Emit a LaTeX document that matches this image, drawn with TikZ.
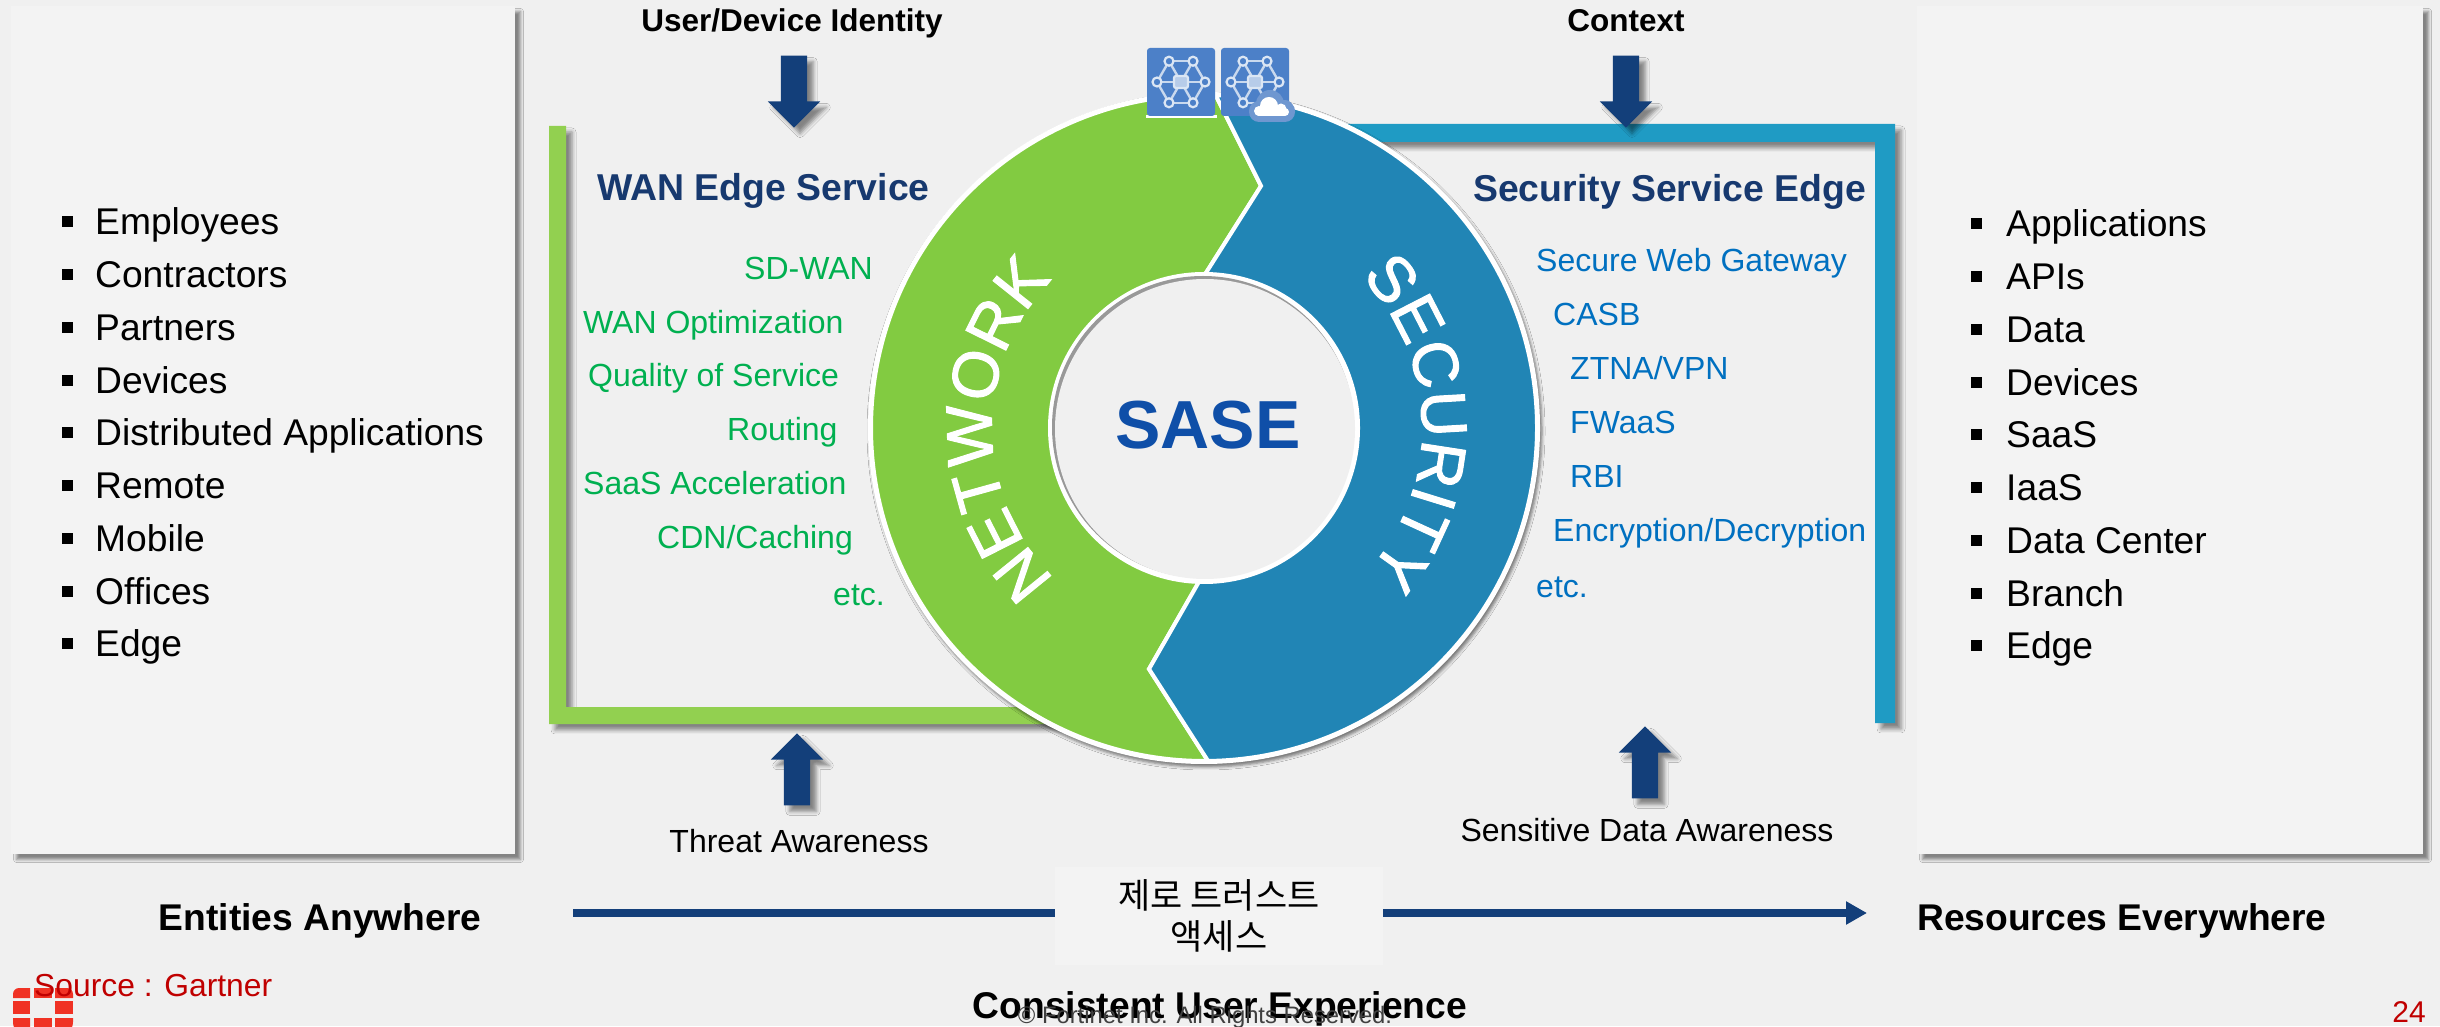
\documentclass[tikz,border=0pt]{standalone}
\usepackage{fontspec}
\setmainfont{Liberation Sans}
\newfontfamily\krfont{Noto Sans CJK KR}
\newfontfamily\ringfont[FakeBold=1.5]{Liberation Sans}
\usetikzlibrary{arrows,arrows.meta,shapes,shadows.blur,decorations.text}
\newcommand{\fsize}[1]{\fontsize{#1}{#1}\selectfont}
\definecolor{pagebg}{HTML}{F0F0F0}
\definecolor{panelbg}{HTML}{F3F3F3}
\definecolor{ringgreen}{HTML}{82CB41}
\definecolor{ringblue}{HTML}{2185B5}
\definecolor{bargreen}{HTML}{92D050}
\definecolor{barblue}{HTML}{1F9BC4}
\definecolor{navy}{HTML}{133F7A}
\definecolor{headblue}{HTML}{17396F}
\definecolor{netgreen}{HTML}{00B050}
\definecolor{secblue}{HTML}{0070C0}
\definecolor{saseblue}{HTML}{0F4FA8}
\definecolor{iconblue}{HTML}{4C80C8}
\definecolor{iconpale}{HTML}{6F97D0}
\definecolor{fortred}{HTML}{F03224}
\definecolor{srcred}{HTML}{C00000}
\tikzset{
    softshade/.style={blur shadow={shadow xshift=6pt,shadow yshift=-6pt,shadow blur radius=4pt,shadow opacity=45}},
    panel/.style={rectangle,fill=panelbg,inner sep=0pt,blur shadow={shadow xshift=5.5pt,shadow yshift=-5.5pt,shadow blur radius=3pt,shadow opacity=45}},
    listitem/.style={anchor=base west,inner sep=0pt,font=\fsize{37.2}},
    bulletmark/.style={rectangle,fill=black,inner sep=0pt,minimum size=11pt},
    greenitem/.style={anchor=base west,inner sep=0pt,text=netgreen,font=\fsize{32}},
    blueitem/.style={anchor=base west,inner sep=0pt,text=secblue,font=\fsize{32}},
    headitem/.style={anchor=base west,inner sep=0pt,text=headblue,font=\fsize{37.4}\bfseries},
    toplabel/.style={anchor=base,inner sep=0pt,font=\fsize{31.5}\bfseries},
    sidelabel/.style={anchor=base,inner sep=0pt,font=\fsize{37.2}\bfseries},
    awarelabel/.style={anchor=base,inner sep=0pt,font=\fsize{32}},
    blockarrow/.style={single arrow,fill=navy,inner sep=13pt,minimum height=72pt,minimum width=52pt,
        single arrow head extend=13pt,single arrow tip angle=90,softshade},
    netmark/.pic={
        \fill[iconblue,rounded corners=3pt] (-34,-34) rectangle (34,34);
        \foreach \ang in {0,60,...,300} {
            \draw[white!70!iconblue,line width=2.4pt] (0,0) -- (\ang:24pt);
            \draw[white!70!iconblue,line width=2.4pt] (\ang:24pt) -- (\ang+60:24pt);
        }
        \foreach \ang in {0,60,...,300}
            \filldraw[fill=iconblue,draw=white!80!iconblue,line width=2.2pt] (\ang:24pt) circle (4.5pt);
        \filldraw[fill=white!60!iconblue,draw=white!80!iconblue,line width=2.2pt,rounded corners=2pt] (-7,-6) rectangle (7,6);
    }
}
\begin{document}
\begin{tikzpicture}[x=1pt,y=1pt]
    \fill[pagebg] (0,0) rectangle (2440,1026);
    \useasboundingbox (0,0) rectangle (2440,1026);

    \node[panel,minimum width=504pt,minimum height=848pt] (leftpanel) at (263,596) {};
    \node[panel,minimum width=506pt,minimum height=848pt] (rightpanel) at (2170,596) {};

    \foreach \txt [count=\i, evaluate=\i as \y using 791-52.75*(\i-1)] in {Employees,Contractors,Partners,Devices,Distributed Applications,Remote,Mobile,Offices,Edge} {
        \node[listitem] (ent\i) at (95,\y) {\txt};
        \node[bulletmark] (entb\i) at (67,\y+13) {};
    }
    \foreach \txt [count=\i, evaluate=\i as \y using 789-52.75*(\i-1)] in {Applications,APIs,Data,Devices,SaaS,IaaS,Data Center,Branch,Edge} {
        \node[listitem] (res\i) at (2006,\y) {\txt};
        \node[bulletmark] (resb\i) at (1976,\y+13) {};
    }

    \fill[bargreen,softshade] (1060,319) -- (566,319) -- (566,900) -- (549,900) -- (549,302) -- (1060,302) -- cycle;
    \fill[barblue,softshade] (1300,902) -- (1895,902) -- (1895,303) -- (1875,303) -- (1875,884) -- (1300,884) -- cycle;

    \node[toplabel] (identity) at (792,1026-32) {User/Device Identity};
    \node[toplabel] (context) at (1626,1026-32) {Context};
    \node[blockarrow,shape border rotate=270] (userarrow) at (794,941) {};
    \node[blockarrow,shape border rotate=270] (ctxarrow) at (1626,941) {};
    \node[blockarrow,shape border rotate=90] (threatarrow) at (797,250) {};
    \node[blockarrow,shape border rotate=90] (dataarrow) at (1645,257) {};

    \begin{scope}[shift={(1204,598)}]
        \fill[white,blur shadow={shadow xshift=2pt,shadow yshift=-3pt,shadow blur radius=3pt,shadow opacity=50}] (0,0) circle (336pt);
        \filldraw[ringgreen,draw=white,line width=4pt] (88:333pt) arc[start angle=88,end angle=270.7,radius=333pt]
            -- (-55,-241) -- (268.5:152pt) arc[start angle=268.5,end angle=90,radius=152pt] -- (57,242) -- cycle;
        \filldraw[ringblue,draw=white,line width=4pt] (88:333pt) arc[start angle=88,end angle=-89.3,radius=333pt]
            -- (-55,-241) -- (268.5:152pt) arc[start angle=268.5,end angle=450,radius=152pt] -- (57,242) -- cycle;
        \fill[white] (0,0) circle (156pt);
        \fill[black!40] (-1,1) circle (151pt);
        \fill[pagebg] (1,-1) circle (150pt);
        \path[decorate,decoration={text along path,text align=center,
            text={|\ringfont\fsize{65}\color{white}|NETWORK}}]
            (225:212pt) arc[start angle=225,end angle=136,radius=212pt];
        \path[decorate,decoration={text along path,text align=center,
            text={|\ringfont\fsize{64}\color{white}|SECURITY}}]
            (44:218pt) arc[start angle=44,end angle=-41,radius=218pt];
    \end{scope}
    \node[inner sep=0pt,text=saseblue,font=\fsize{68}\bfseries] (sase) at (1208,601) {SASE};

    \fill[white] (1146,908) rectangle (1217,911);
    \pic (netplain) at (1181,944) {netmark};
    \pic (netcloud) at (1255,944) {netmark};
    \fill[iconpale,rounded corners=10pt] (1249,904) rectangle (1295,925);
    \fill[iconpale] (1270,922) circle (14pt) (1285,918) circle (8pt);
    \fill[white,rounded corners=4pt] (1255,910) rectangle (1289,918);
    \fill[white] (1269,920) circle (9pt) (1281,917) circle (5.5pt) (1259,915) circle (5pt);

    \node[headitem] (wanhead) at (597,1026-201) {WAN Edge Service};
    \node[headitem] (ssehead) at (1473,1026-202) {Security Service Edge};

    \foreach \x/\y/\txt/\nm in {744/280/SD-WAN/wan1, 583/334/WAN Optimization/wan2, 588/387/Quality of Service/wan3,
        727/441/Routing/wan4, 583/495/SaaS Acceleration/wan5, 657/549/CDN\slash Caching/wan6, 833/606/etc./wan7}
        \node[greenitem] (\nm) at (\x,1026-\y) {\txt};
    \foreach \x/\y/\txt/\nm in {1536/272/Secure Web Gateway/sse1, 1553/326/CASB/sse2, 1570/380/ZTNA\slash VPN/sse3,
        1570/434/FWaaS/sse4, 1570/488/RBI/sse5, 1553/542/Encryption\slash Decryption/sse6, 1536/598/etc./sse7}
        \node[blueitem] (\nm) at (\x,1026-\y) {\txt};

    \node[awarelabel] (threat) at (799,1026-852) {Threat Awareness};
    \node[awarelabel] (sensitive) at (1647,1026-841) {Sensitive Data Awareness};

    \node[sidelabel] (entities) at (320,1026-930) {Entities Anywhere};
    \node[sidelabel] (resources) at (2122,1026-930) {Resources Everywhere};
    \coordinate (flowstart) at (573,113);
    \coordinate (flowend) at (1867,113);
    \node[rectangle,fill=panelbg,inner sep=0pt,minimum width=328pt,minimum height=98pt,align=center,font=\krfont\fontsize{35}{41}\selectfont] (zerobox) at (1219,110)
        {제로 트러스트\\액세스};
    \draw[navy,line width=7.5pt] (flowstart) -- (zerobox.west |- flowstart);
    \draw[navy,line width=7.5pt,-{Triangle[length=21pt,width=22pt]}] (zerobox.east |- flowend) -- (flowend);

    \begin{scope}
        \clip (0,0) rectangle (2440,1026);
        \fill[fortred] (13,28) [rounded corners=6pt] -- (13,38) [sharp corners] -- (30,38) -- (30,28) -- cycle;
        \fill[fortred] (34,28) rectangle (52,38);
        \fill[fortred] (55,28) -- (55,38) [rounded corners=6pt] -- (73,38) [sharp corners] -- (73,28) -- cycle;
        \fill[fortred] (13,12) rectangle (30,25);
        \fill[fortred] (55,12) rectangle (73,25);
        \fill[fortred] (13,8) -- (30,8) -- (30,-10) [rounded corners=14pt] -- (13,-10) [sharp corners] -- cycle;
        \fill[fortred] (34,8) rectangle (52,-10);
        \fill[fortred] (55,8) -- (73,8) [rounded corners=14pt] -- (73,-10) [sharp corners] -- (55,-10) -- cycle;
    \end{scope}
    \node[anchor=base west,inner sep=0pt,text=srcred,font=\fsize{31.8}] (source) at (34,30) {Source : Gartner};
    \node[anchor=base,inner sep=0pt,font=\fsize{37.2}\bfseries] (consistent) at (1220,8) {Consistent User Experience};
    \node[anchor=base,inner sep=0pt,text=black!75,font=\fsize{23.8}] (copyright) at (1205,3) {© Fortinet Inc. All Rights Reserved.};
    \node[anchor=base east,inner sep=0pt,text=srcred,font=\fsize{30}] (pagenum) at (2426,4) {24};
\end{tikzpicture}
\end{document}
